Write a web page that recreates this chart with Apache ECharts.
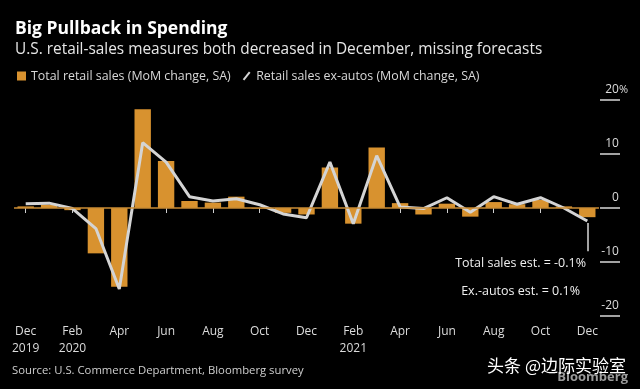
<!DOCTYPE html>
<html>
<head>
<meta charset="utf-8">
<script src="https://cdn.jsdelivr.net/npm/echarts@6/dist/echarts.min.js"></script>
<style>
html,body{margin:0;padding:0;background:#000;}
#c{width:640px;height:389px;}
</style>
</head>
<body>
<div id="c"></div>
<script>
const months = ['Dec 2019','Jan 2020','Feb 2020','Mar 2020','Apr 2020','May 2020','Jun 2020','Jul 2020','Aug 2020','Sep 2020','Oct 2020','Nov 2020','Dec 2020',
  'Jan 2021','Feb 2021','Mar 2021','Apr 2021','May 2021','Jun 2021','Jul 2021','Aug 2021','Sep 2021','Oct 2021','Nov 2021','Dec 2021'];
const tickLabels = ['Dec\n2019','','Feb\n2020','','Apr','','Jun','','Aug','','Oct','','Dec','','Feb\n2021','','Apr','','Jun','','Aug','','Oct','','Dec'];
const totalSales = [0.3, 0.6, -0.4, -8.4, -14.6, 18.3, 8.7, 1.3, 1.0, 2.1, -0.1, -0.9, -1.2, 7.5, -2.9, 11.2, 0.9, -1.2, 0.8, -1.6, 1.1, 0.7, 1.5, 0.3, -1.7];
const exAutos = [0.8, 0.9, -0.1, -3.8, -15.0, 12.1, 8.5, 2.1, 1.3, 1.7, 0.6, -1.1, -1.8, 8.5, -2.9, 9.7, 0.2, -0.1, 1.9, -0.8, 2.1, 0.7, 1.9, 0.0, -2.4];
const yTicks = [-20, -10, 0, 10, 20];
const estTotal = 'Total sales est. = -0.1%';
const estEx = 'Ex.-autos est. = 0.1%';

const FONT = '"Open Sans", "Noto Sans", sans-serif';
const chart = echarts.init(document.getElementById('c'), null, {renderer: 'canvas'});
chart.setOption({
  backgroundColor: '#000',
  animation: false,
  textStyle: {fontFamily: FONT},
  title: {
    text: 'Big Pullback in Spending',
    subtext: 'U.S. retail-sales measures both decreased in December, missing forecasts',
    left: 10, top: 15, itemGap: 4,
    textStyle: {color: '#fff', fontSize: 17.5, fontWeight: 'bold', fontFamily: FONT},
    subtextStyle: {color: '#e6e6e6', fontSize: 15.4, fontFamily: FONT}
  },
  legend: {
    left: 12, top: 65, itemWidth: 9, itemHeight: 9, itemGap: 12,
    textStyle: {color: '#d8d8d8', fontSize: 12.4, fontFamily: FONT},
    data: [
      {name: 'Total retail sales (MoM change, SA)', icon: 'rect'},
      {name: 'Retail sales ex-autos (MoM change, SA)', icon: 'path://M0,10L8,0L10,1.6L2,11.6Z'}
    ]
  },
  grid: {left: 14, right: 41, top: 100, bottom: 73},
  xAxis: {
    type: 'category', data: months, boundaryGap: true, offset: -3,
    axisLine: {show: false},
    axisTick: {show: true, interval: 1, alignWithLabel: true, length: 5, lineStyle: {color: '#cfcfcf', width: 1}},
    axisLabel: {
      interval: 1, margin: 10, color: '#dcdcdc', fontSize: 12, lineHeight: 17, fontFamily: FONT,
      formatter: (v, i) => tickLabels[i]
    }
  },
  yAxis: {
    type: 'value', position: 'right', min: -20, max: 20, interval: 10, offset: 1,
    axisLine: {show: false},
    splitLine: {show: false},
    axisTick: {show: true, length: 20, lineStyle: {color: '#d8d8d8', width: 1.5}},
    axisLabel: {
      inside: false, margin: 28, align: 'right', verticalAlign: 'bottom', padding: [0, 0, 4, 0],
      color: '#dcdcdc', fontSize: 12, fontFamily: FONT,
      formatter: v => '{a|' + v + '}' + (v === 20 ? '{p|%}' : '{h|%}'),
      rich: {
        a: {color: '#dcdcdc', fontSize: 12, fontFamily: FONT},
        p: {color: '#dcdcdc', fontSize: 11, fontFamily: FONT},
        h: {color: 'rgba(0,0,0,0)', fontSize: 11, fontFamily: FONT}
      }
    }
  },
  series: [
    {
      name: 'Total retail sales (MoM change, SA)', type: 'bar', data: totalSales,
      barWidth: '70%', itemStyle: {color: '#d8922f'}, z: 2,
      markLine: {
        silent: true, symbol: 'none', label: {show: false},
        lineStyle: {color: '#c98b35', width: 1.5, type: 'solid'},
        data: [{yAxis: 0}]
      }
    },
    {
      name: 'Retail sales ex-autos (MoM change, SA)', type: 'line', data: exAutos,
      symbol: 'none', lineStyle: {color: '#d4d4d4', width: 3}, itemStyle: {color: '#d4d4d4'}, z: 4,
      markLine: {
        silent: true, symbol: 'none', label: {show: false},
        lineStyle: {color: '#d8d8d8', width: 1.5, type: 'solid'},
        data: [[{coord: ['Dec 2021', -2.8]}, {coord: ['Dec 2021', -8.0]}]]
      }
    }
  ],
  graphic: [
    {type: 'text', right: 54, top: 257, style: {text: estTotal, fill: '#f0f0f0', font: '12.5px ' + FONT, textAlign: 'right'}},
    {type: 'text', right: 60, top: 285, style: {text: estEx, fill: '#f0f0f0', font: '12.5px ' + FONT, textAlign: 'right'}},
    {type: 'text', left: 12, top: 365, style: {text: 'Source: U.S. Commerce Department, Bloomberg survey', fill: '#cfcfcf', font: '11.3px ' + FONT}},
    {type: 'text', right: 12, top: 371, z: 1, style: {text: 'Bloomberg', fill: '#9a9a9a', font: 'bold 13px ' + FONT}},
    {type: 'text', right: 14, top: 357, z: 2, style: {text: '头条 @边际实验室', fill: '#ffffff', font: '17px "Noto Sans CJK SC", sans-serif'}}
  ]
});
</script>
</body>
</html>
